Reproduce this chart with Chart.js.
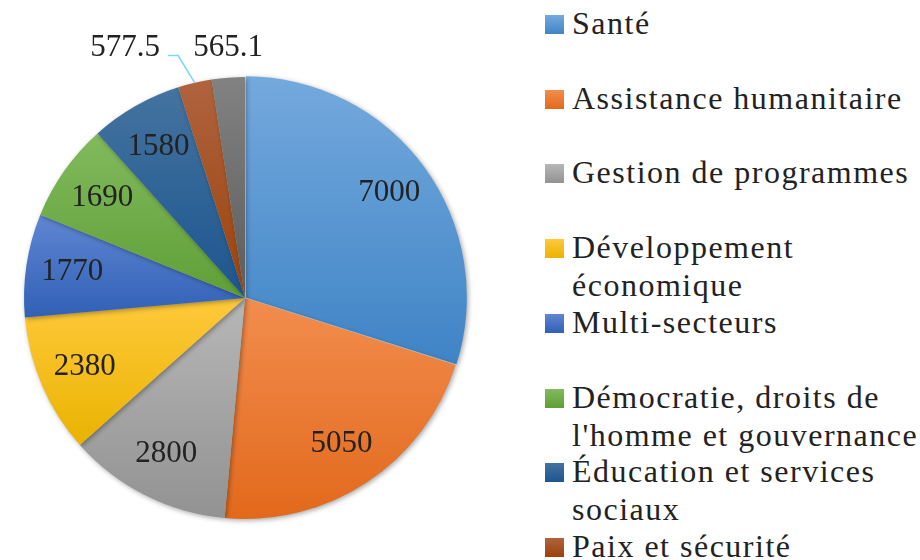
<!DOCTYPE html>
<html lang="fr">
<head>
<meta charset="utf-8">
<title>Répartition par secteur</title>
<script src="https://cdn.jsdelivr.net/npm/chart.js@4.4.0/dist/chart.umd.min.js"></script>
<style>
  html, body { margin: 0; padding: 0; background: #fff; overflow: hidden; }
  #wrap { position: relative; width: 920px; height: 560px; overflow: hidden; }
  #pie { position: absolute; left: 0; top: 0; }
  #legend { position: absolute; left: 545px; top: 0; width: 375px; height: 560px;
            font-family: "Liberation Serif", serif; font-size: 32px; line-height: 38px;
            letter-spacing: 1.5px; color: #222; }
  .item { position: absolute; left: 0; white-space: nowrap; }
  .sw { position: absolute; left: 0; top: 11px; width: 19px; height: 19px; }
  .txt { position: absolute; left: 27px; top: 0; }
</style>
</head>
<body>
<div id="wrap">
  <canvas id="pie" width="490" height="560"></canvas>
  <div id="legend"></div>
</div>
<script>
// sectors, clockwise from 12 o'clock (legend lines kept as arrays)
const categories = [
  'Santé',
  'Assistance humanitaire',
  'Gestion de programmes',
  ['Développement', 'économique'],
  'Multi-secteurs',
  ['Démocratie, droits de', "l'homme et gouvernance"],
  ['Éducation et services', 'sociaux'],
  'Paix et sécurité',
  'Autres'
];
const values = [7000, 5050, 2800, 2380, 1770, 1690, 1580, 577.5, 565.1];

// gradient fill, light at the top of each slice, darker at the bottom
const topColors    = ['#74a9dd', '#f28d4e', '#b7b7b7', '#ffc93c', '#5f86d2', '#82ba5c', '#44739f', '#b0633f', '#828282'];
const bottomColors = ['#3f84c6', '#e2691c', '#929292', '#eab300', '#3160b6', '#5f9f37', '#1c558f', '#9a430b', '#5c5c5c'];

const PIE_RADIUS = 221;
const offsets = [4, 0, 0, 0, 0, 0, 0, 0, 0];
// small slices get their value outside the pie, the 8th one pulled left with a leader line
const outsideShift = { 7: [-63, -7], 8: [2, -1] };

const total = values.reduce((a, b) => a + b, 0);

// linear gradient over the vertical extent of one slice
function sliceGradient(context) {
  const chart = context.chart;
  const i = context.dataIndex;
  const area = chart.chartArea;
  if (!area) return bottomColors[i];
  const cx = (area.left + area.right) / 2;
  const cy = (area.top + area.bottom) / 2;
  const before = values.slice(0, i).reduce((a, b) => a + b, 0);
  const start = -Math.PI / 2 + 2 * Math.PI * before / total;
  const end = start + 2 * Math.PI * values[i] / total;
  const ys = [cy, cy + Math.sin(start) * PIE_RADIUS, cy + Math.sin(end) * PIE_RADIUS];
  if (start < Math.PI / 2 && end > Math.PI / 2) ys.push(cy + PIE_RADIUS);
  const g = chart.ctx.createLinearGradient(0, Math.min(...ys), 0, Math.max(...ys));
  g.addColorStop(0, topColors[i]);
  g.addColorStop(1, bottomColors[i]);
  return g;
}

// soft drop shadow under the slices
const sliceShadow = {
  id: 'sliceShadow',
  beforeDatasetDraw(chart) {
    const ctx = chart.ctx;
    ctx.save();
    ctx.shadowColor = 'rgba(0,0,0,0.35)';
    ctx.shadowBlur = 5;
    ctx.shadowOffsetX = 1.5;
    ctx.shadowOffsetY = 1.5;
  },
  afterDatasetDraw(chart) {
    chart.ctx.restore();
  }
};

// value labels: inside for the big slices, above the pie for the thin ones
const sliceLabels = {
  id: 'sliceLabels',
  afterDatasetsDraw(chart) {
    const ctx = chart.ctx;
    const arcs = chart.getDatasetMeta(0).data;
    ctx.save();
    ctx.font = '31px "Liberation Serif"';
    ctx.fillStyle = '#222';
    ctx.textAlign = 'center';
    ctx.textBaseline = 'middle';
    arcs.forEach((arc, i) => {
      const p = arc.getProps(['x', 'y', 'startAngle', 'endAngle', 'outerRadius']);
      const mid = (p.startAngle + p.endAngle) / 2;
      const off = offsets[i];
      const text = String(values[i]);
      if (!outsideShift[i]) {
        const rr = p.outerRadius * 0.79 + off;
        ctx.fillText(text, p.x + Math.cos(mid) * rr, p.y + Math.sin(mid) * rr);
        return;
      }
      const rr = p.outerRadius + 29;
      const x = p.x + Math.cos(mid) * rr + outsideShift[i][0];
      const y = p.y + Math.sin(mid) * rr + outsideShift[i][1];
      ctx.fillText(text, x, y);
      if (outsideShift[i][0] < -20) {
        const right = x + ctx.measureText(text).width / 2;
        ctx.beginPath();
        ctx.strokeStyle = '#7fd3f6';
        ctx.lineWidth = 1.5;
        ctx.moveTo(p.x + Math.cos(mid) * p.outerRadius, p.y + Math.sin(mid) * p.outerRadius);
        ctx.lineTo(right + 18, y + 8);
        ctx.lineTo(right + 8, y + 8);
        ctx.stroke();
      }
    });
    ctx.restore();
  }
};

new Chart(document.getElementById('pie'), {
  type: 'pie',
  data: {
    labels: categories,
    datasets: [{
      data: values,
      backgroundColor: sliceGradient,
      borderWidth: 0,
      offset: offsets,
      radius: PIE_RADIUS
    }]
  },
  options: {
    responsive: false,
    animation: false,
    devicePixelRatio: 1,
    layout: { padding: { top: 36, left: 0, right: 0, bottom: 0 } },
    plugins: {
      legend: { display: false },
      tooltip: { enabled: false }
    }
  },
  plugins: [sliceShadow, sliceLabels]
});

// legend on the right, one entry every ~75px (runs off the bottom like the original)
const legendBox = document.getElementById('legend');
categories.forEach((name, i) => {
  const item = document.createElement('div');
  item.className = 'item';
  item.style.top = (4 + i * 74.7) + 'px';
  const sw = document.createElement('div');
  sw.className = 'sw';
  sw.style.background = 'linear-gradient(' + topColors[i] + ', ' + bottomColors[i] + ')';
  const txt = document.createElement('div');
  txt.className = 'txt';
  txt.innerHTML = [].concat(name).join('<br>');
  item.appendChild(sw);
  item.appendChild(txt);
  legendBox.appendChild(item);
});
</script>
</body>
</html>
